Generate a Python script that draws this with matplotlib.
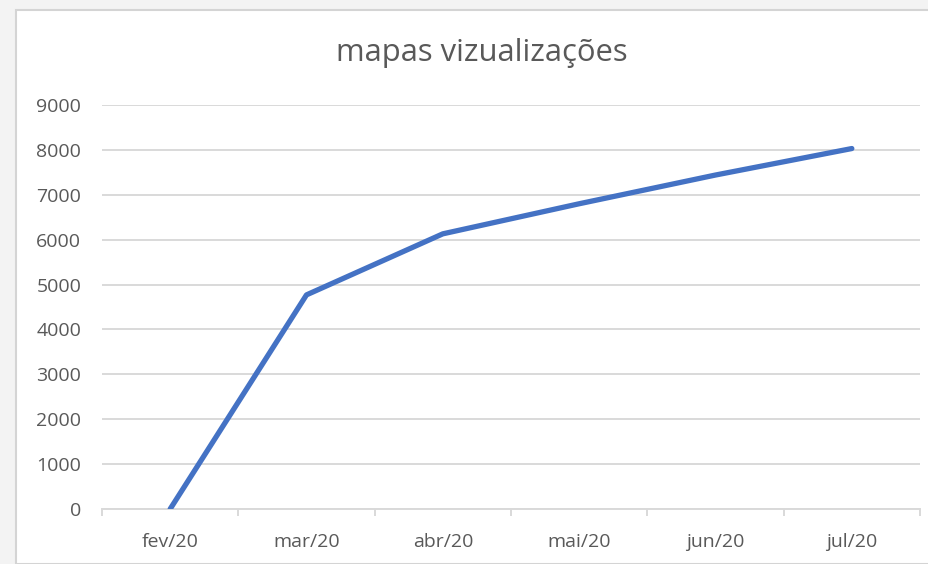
import matplotlib
matplotlib.use("Agg")
import matplotlib.pyplot as plt
from matplotlib.patches import Rectangle
from matplotlib.ticker import FixedLocator, NullFormatter

categories = ["fev/20", "mar/20", "abr/20", "mai/20", "jun/20", "jul/20"]
views = [0, 4770, 6130, 6800, 7440, 8030]
y_ticks = [0, 1000, 2000, 3000, 4000, 5000, 6000, 7000, 8000, 9000]
title = "mapas vizualizações"

plt.rcParams['font.family'] = ['Open Sans', 'DejaVu Sans']

W, H = 929, 564
fig = plt.figure(figsize=(W / 100, H / 100), dpi=100)
fig.patch.set_facecolor('#f3f3f3')
frame = Rectangle((16 / W, 0), 1.0, 1 - 10 / H, transform=fig.transFigure,
                  facecolor='white', edgecolor='#d4d4d4', linewidth=1.5, zorder=-10)
fig.add_artist(frame)

ax = fig.add_axes([102 / W, 55 / H, 818 / W, 404 / H])
ax.set_facecolor('none')
x = list(range(len(categories)))
ax.plot(x, views, color='#4472C4', linewidth=3.8, solid_capstyle='round', solid_joinstyle='round', zorder=3)

ax.set_xlim(-0.5, len(categories) - 0.5)
ax.set_ylim(0, 9000)
ax.set_yticks(y_ticks)
ax.set_yticklabels([str(v) for v in y_ticks])
ax.set_xticks(x)
ax.set_xticklabels(categories)
ax.xaxis.set_minor_locator(FixedLocator([i - 0.5 for i in range(len(categories) + 1)]))
ax.xaxis.set_minor_formatter(NullFormatter())

ax.grid(axis='y', color='#d9d9d9', linewidth=1.4, zorder=1)
ax.set_axisbelow(True)
for s in ['top', 'right', 'left']:
    ax.spines[s].set_visible(False)
ax.spines['bottom'].set_color('#d9d9d9')
ax.spines['bottom'].set_linewidth(1.4)

ax.tick_params(axis='y', length=0, pad=15, labelsize=14, labelcolor='#595959')
ax.tick_params(axis='x', which='major', length=0, pad=17, labelsize=14, labelcolor='#595959')
ax.tick_params(axis='x', which='minor', length=5, width=1.4, color='#d9d9d9')

fig.text(482 / W, 1 - 53 / H, title, ha='center', va='center', fontsize=22.3, color='#595959')

fig.savefig('out.png', dpi=100, facecolor=fig.get_facecolor())
